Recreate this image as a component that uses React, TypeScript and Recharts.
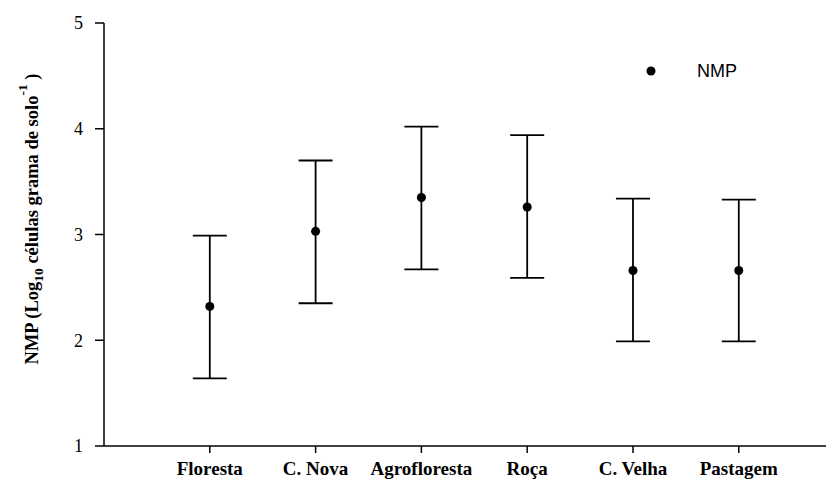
import React from 'react';
import { ComposedChart, Scatter, ErrorBar, XAxis, YAxis } from 'recharts';

const categories = ['Floresta', 'C. Nova', 'Agrofloresta', 'Roça', 'C. Velha', 'Pastagem'];
const means = [2.32, 3.03, 3.35, 3.26, 2.66, 2.66];
const upper = [2.99, 3.70, 4.02, 3.94, 3.34, 3.33];
const lower = [1.64, 2.35, 2.67, 2.59, 1.99, 1.99];
const yTicks = [1, 2, 3, 4, 5];
const xTicks = [1, 2, 3, 4, 5, 6];
const seriesName = 'NMP';

const data = categories.map((c, i) => ({
  x: i + 1,
  name: c,
  y: means[i],
  err: [+(means[i] - lower[i]).toFixed(3), +(upper[i] - means[i]).toFixed(3)],
}));

const serif = '"Liberation Serif", "Times New Roman", serif';
const sans = '"Liberation Sans", Arial, sans-serif';

const YLabel = () => (
  <text
    transform="translate(30,211) rotate(-90)"
    textAnchor="middle"
    fontFamily={serif}
    fontWeight="bold"
    fontSize={18.5}
    fill="#000"
  >
    <tspan>NMP (Log</tspan>
    <tspan dy={5} fontSize={13.5}>10</tspan>
    <tspan dy={-5}> células grama de solo</tspan>
    <tspan dy={-11} fontSize={13.5}>-1</tspan>
    <tspan dy={11}> )</tspan>
  </text>
);

export default function App() {
  return (
    <div style={{ position: 'relative', width: 826, height: 479 }}>
      <ComposedChart
        width={826}
        height={479}
        data={data}
        margin={{ top: 15, right: 0, bottom: 0, left: 0 }}
      >
        <XAxis
          dataKey="x"
          type="number"
          domain={[0, 6.9]}
          ticks={xTicks}
          allowDataOverflow
          tickFormatter={(v: number) => categories[v - 1] ?? ''}
          height={41}
          tickSize={7}
          tickMargin={9}
          interval={0}
          axisLine={{ stroke: '#000', strokeWidth: 1.5 }}
          tickLine={{ stroke: '#000', strokeWidth: 1.5 }}
          tick={{ fill: '#000', fontFamily: serif, fontWeight: 'bold', fontSize: 19 }}
        />
        <YAxis
          dataKey="y"
          type="number"
          domain={[1, 5]}
          ticks={yTicks}
          width={96}
          tickSize={9}
          tickMargin={12}
          axisLine={{ stroke: '#000', strokeWidth: 1.5 }}
          tickLine={{ stroke: '#000', strokeWidth: 1.5 }}
          tick={{ fill: '#000', fontFamily: serif, fontSize: 18 }}
          label={{ content: () => <YLabel /> }}
        />
        <Scatter dataKey="y" name={seriesName} fill="#000" isAnimationActive={false}>
          <ErrorBar dataKey="err" direction="y" width={17} stroke="#000" strokeWidth={1.8} />
        </Scatter>
      </ComposedChart>
      <div
        style={{
          position: 'absolute',
          left: 638,
          top: 52,
          display: 'flex',
          alignItems: 'center',
          fontFamily: sans,
          fontSize: 18,
          color: '#000',
          lineHeight: '22px',
        }}
      >
        <svg width={10} height={10} style={{ marginRight: 41 }}>
          <circle cx={5} cy={5} r={4.5} fill="#000" />
        </svg>
        <span>{seriesName}</span>
      </div>
    </div>
  );
}
